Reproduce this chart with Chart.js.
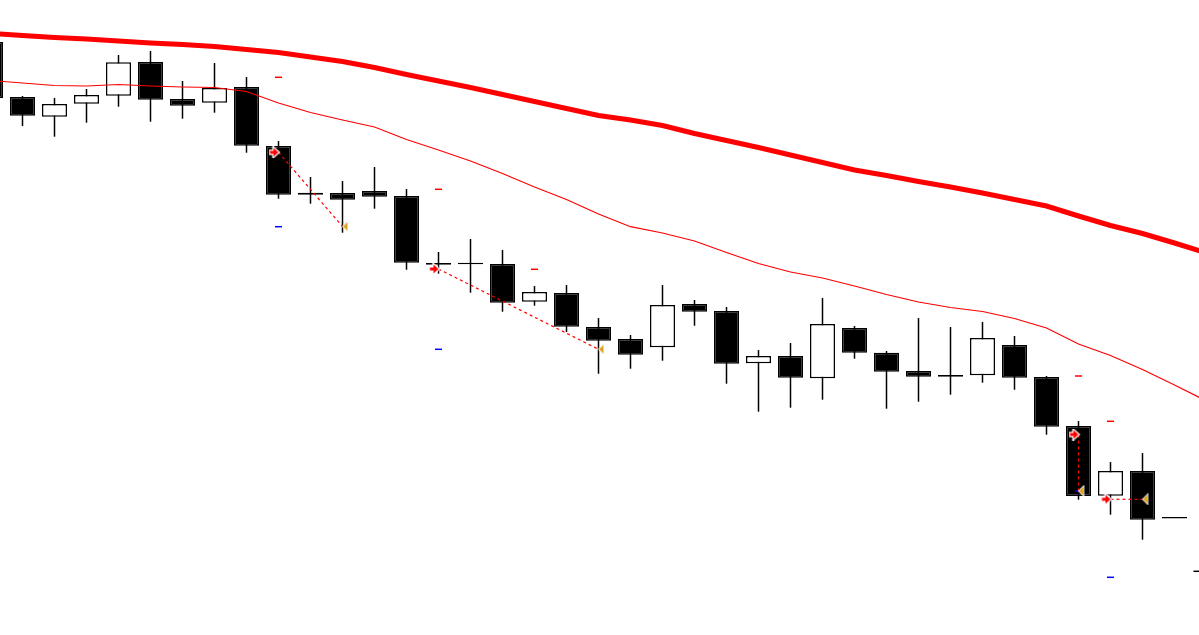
<!DOCTYPE html>
<html>
<head>
<meta charset="utf-8">
<script src="https://cdn.jsdelivr.net/npm/chart.js@4.4.1/dist/chart.umd.min.js"></script>
<style>
  html, body { margin: 0; padding: 0; background: #ffffff; overflow: hidden; }
  #wrap { width: 1199px; height: 635px; }
</style>
</head>
<body>
<div id="wrap"><canvas id="priceChart" width="1199" height="635"></canvas></div>
<script>
// Bar numbers (bar -1 is the one cut off on the left edge)
const barIndex = [-1, 0, 1, 2, 3, 4, 5, 6, 7, 8, 9, 10, 11, 12, 13, 14, 15, 16, 17, 18,
  19, 20, 21, 22, 23, 24, 25, 26, 27, 28, 29, 30, 31, 32, 33, 34, 35, 36];

const opens = [1.29580, 1.29030, 1.28833, 1.28963, 1.29043, 1.29380, 1.29010, 1.28973, 1.29130, 1.28540,
  1.28073, 1.28070, 1.28090, 1.28040, 1.27370, 1.27357, 1.27360, 1.26983, 1.27070, 1.26730,
  1.26610, 1.26527, 1.26960, 1.26890, 1.26367, 1.26440, 1.26217, 1.26720, 1.26473, 1.26290,
  1.26250, 1.26247, 1.26550, 1.26230, 1.25740, 1.25043, 1.25290, 1.24815];
const highs = [1.29590, 1.29040, 1.29020, 1.29110, 1.29450, 1.29490, 1.29190, 1.29370, 1.29230, 1.28590,
  1.28230, 1.28190, 1.28330, 1.28110, 1.27480, 1.27610, 1.27500, 1.27140, 1.27150, 1.26820,
  1.26650, 1.27150, 1.27000, 1.26930, 1.26500, 1.26570, 1.27020, 1.26740, 1.26490, 1.26820,
  1.26730, 1.26780, 1.26640, 1.26240, 1.25790, 1.25380, 1.25470, 1.24815];
const lows = [1.29010, 1.28740, 1.28633, 1.28773, 1.28933, 1.28783, 1.28813, 1.28873, 1.28473, 1.28013,
  1.27963, 1.27673, 1.27913, 1.27303, 1.27263, 1.27073, 1.26883, 1.26943, 1.26680, 1.26263,
  1.26313, 1.26393, 1.26743, 1.26163, 1.25883, 1.25923, 1.26003, 1.26413, 1.25913, 1.25983,
  1.26053, 1.26173, 1.26103, 1.25653, 1.25003, 1.24853, 1.24603, 1.24815];
const closes = [1.29020, 1.28843, 1.28960, 1.29050, 1.29377, 1.29003, 1.28943, 1.29120, 1.28543, 1.28053,
  1.28053, 1.28003, 1.28033, 1.27373, 1.27353, 1.27357, 1.26973, 1.27080, 1.26733, 1.26593,
  1.26453, 1.26950, 1.26883, 1.26363, 1.26440, 1.26223, 1.26760, 1.26473, 1.26283, 1.26233,
  1.26233, 1.26620, 1.26223, 1.25733, 1.25040, 1.25290, 1.24803, 1.24815];

// Moving averages (one extra value for the bar just past the right edge)
const maIndex = [-1, 0, 1, 2, 3, 4, 5, 6, 7, 8, 9, 10, 11, 12, 13, 14, 15, 16, 17, 18,
  19, 20, 21, 22, 23, 24, 25, 26, 27, 28, 29, 30, 31, 32, 33, 34, 35, 36, 37];
const maFast = [1.29195, 1.29170, 1.29145, 1.29140, 1.29155, 1.29140, 1.29130, 1.29125, 1.29085, 1.28970,
  1.28875, 1.28800, 1.28730, 1.28605, 1.28500, 1.28390, 1.28265, 1.28130, 1.28005, 1.27860,
  1.27733, 1.27670, 1.27590, 1.27475, 1.27365, 1.27280, 1.27220, 1.27140, 1.27055, 1.26980,
  1.26925, 1.26885, 1.26815, 1.26720, 1.26560, 1.26445, 1.26305, 1.26150, 1.25990];
const maSlow = [1.29665, 1.29645, 1.29625, 1.29610, 1.29590, 1.29570, 1.29555, 1.29535, 1.29505, 1.29475,
  1.29430, 1.29385, 1.29325, 1.29255, 1.29190, 1.29125, 1.29055, 1.28985, 1.28915, 1.28845,
  1.28800, 1.28745, 1.28665, 1.28595, 1.28525, 1.28450, 1.28375, 1.28300, 1.28245, 1.28185,
  1.28130, 1.28070, 1.28005, 1.27940, 1.27840, 1.27745, 1.27665, 1.27570, 1.27470];

// Trades: entry bar/price -> exit bar/price
const tradeOpenBar = [8, 13, 33, 34];
const tradeOpenPrice = [1.28477, 1.27310, 1.25655, 1.25007];
const tradeCloseBar = [10, 18, 33, 35];
const tradeClosePrice = [1.27735, 1.26507, 1.25090, 1.25007];

// Short level marks
const takeProfitBar = [8, 13, 16, 33, 34];
const takeProfitPrice = [1.29227, 1.28107, 1.27307, 1.26240, 1.25787];
const stopLossBar = [8, 13, 33, 34];
const stopLossPrice = [1.27733, 1.26507, 1.25090, 1.24227];
const otherMarkBar = [36.7];
const otherMarkPrice = [1.24287];

// small marker pictures
function makeArrow() {
  const c = document.createElement('canvas');
  c.width = 20; c.height = 12;
  const g = c.getContext('2d');
  g.beginPath();
  g.moveTo(1.5, 4.5); g.lineTo(5, 4.5); g.lineTo(5, 1.5); g.lineTo(10, 6);
  g.lineTo(5, 10.5); g.lineTo(5, 7.5); g.lineTo(1.5, 7.5); g.closePath();
  g.lineWidth = 2.5; g.strokeStyle = '#ffffff'; g.stroke();
  g.fillStyle = '#ff0000'; g.fill();
  return c;
}
function makeTriangle() {
  const c = document.createElement('canvas');
  c.width = 16; c.height = 12;
  const g = c.getContext('2d');
  g.beginPath();
  g.moveTo(8.5, 6); g.lineTo(13, 1.5); g.lineTo(13, 10.5); g.closePath();
  g.lineWidth = 1.5; g.strokeStyle = '#ffffff'; g.stroke();
  g.fillStyle = '#daa520'; g.fill();
  return c;
}
const arrowImg = makeArrow();
const triImg = makeTriangle();

const bodyColors = opens.map((o, i) => closes[i] < o || closes[i] === o && i > 20 ? '#000000' : '#ffffff');

const datasets = [];

// trade lines with open arrow and close triangle
tradeOpenBar.forEach((b, i) => {
  datasets.push({
    type: 'line',
    data: [{ x: b, y: tradeOpenPrice[i] }, { x: tradeCloseBar[i], y: tradeClosePrice[i] }],
    borderColor: '#ff0000',
    borderWidth: 1.2,
    borderDash: [3, 3],
    pointStyle: [arrowImg, triImg],
    pointRadius: 5,
    order: 0
  });
});

datasets.push({
  type: 'line', showLine: false, order: 1,
  data: takeProfitBar.map((b, i) => ({ x: b, y: takeProfitPrice[i] })),
  pointStyle: 'line', pointRadius: 3.5, pointBorderWidth: 1.5, pointBorderColor: '#ff0000'
});
datasets.push({
  type: 'line', showLine: false, order: 1,
  data: stopLossBar.map((b, i) => ({ x: b, y: stopLossPrice[i] })),
  pointStyle: 'line', pointRadius: 3.5, pointBorderWidth: 1.5, pointBorderColor: '#0000ff'
});
datasets.push({
  type: 'line', showLine: false, order: 1,
  data: otherMarkBar.map((b, i) => ({ x: b, y: otherMarkPrice[i] })),
  pointStyle: 'line', pointRadius: 3.5, pointBorderWidth: 1.5, pointBorderColor: '#000000'
});

// moving averages
datasets.push({
  type: 'line', order: 2,
  data: maIndex.map((b, i) => ({ x: b, y: maFast[i] })),
  borderColor: '#ff0000', borderWidth: 1.2, pointRadius: 0, tension: 0
});
datasets.push({
  type: 'line', order: 2,
  data: maIndex.map((b, i) => ({ x: b, y: maSlow[i] })),
  borderColor: '#ff0000', borderWidth: 5, pointRadius: 0, tension: 0
});

// candle bodies
datasets.push({
  type: 'bar', order: 3,
  data: barIndex.map((b, i) => ({ x: b, y: [opens[i], closes[i]] })),
  backgroundColor: bodyColors,
  borderColor: '#000000',
  borderWidth: 1.5,
  borderSkipped: false,
  barThickness: 25,
  minBarLength: 1.5,
  grouped: false,
  inflateAmount: 0
});
// wicks
datasets.push({
  type: 'bar', order: 4,
  data: barIndex.map((b, i) => ({ x: b, y: [lows[i], highs[i]] })),
  backgroundColor: '#000000',
  borderWidth: 0,
  barThickness: 1.5,
  grouped: false,
  inflateAmount: 0
});

const ctx = document.getElementById('priceChart').getContext('2d');
const priceChart = new Chart(ctx, {
  type: 'bar',
  data: { datasets: datasets },
  options: {
    responsive: false,
    animation: false,
    events: [],
    layout: { padding: 0, autoPadding: false },
    scales: {
      x: {
        type: 'linear',
        display: false,
        offset: false,
        bounds: 'data',
        min: -0.703125,
        max: 36.765625
      },
      y: {
        type: 'linear',
        display: false,
        beginAtZero: false,
        bounds: 'data',
        min: 1.2365,
        max: 1.3000
      }
    },
    plugins: {
      legend: { display: false },
      tooltip: { enabled: false }
    }
  }
});
</script>
</body>
</html>
